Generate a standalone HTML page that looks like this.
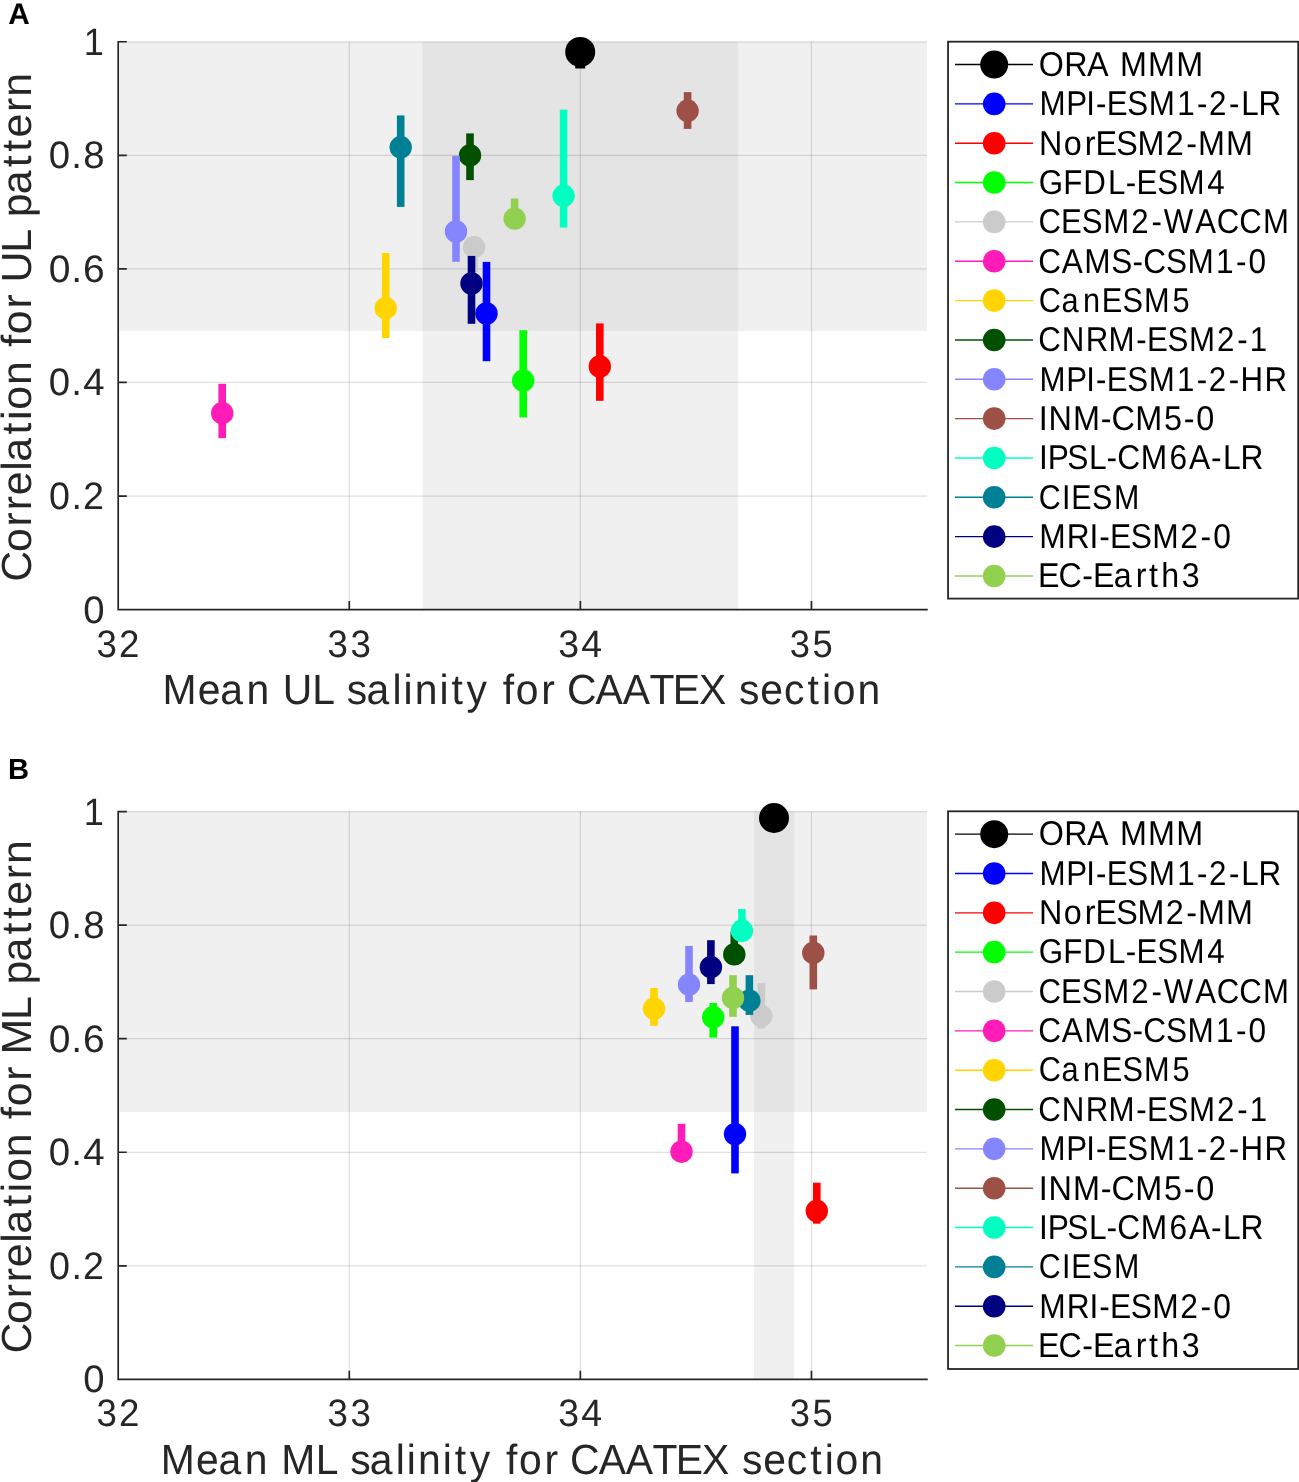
<!DOCTYPE html>
<html lang="en"><head><meta charset="utf-8"><title>Figure</title>
<style>html,body{margin:0;padding:0;background:#fff;}svg{display:block;will-change:transform;}text{font-family:"Liberation Sans",sans-serif;text-rendering:geometricPrecision;}</style></head><body>
<svg width="1299" height="1482" viewBox="0 0 1299 1482">
<rect x="0" y="0" width="1299" height="1482" fill="#ffffff"/>
<rect x="119.6" y="41.75" width="807.30" height="289.15" fill="#b3b3b3" fill-opacity="0.2"/>
<rect x="422.50" y="41.75" width="315.55" height="567.85" fill="#b3b3b3" fill-opacity="0.2"/>
<path d="M349.29 41.75V609.60M580.37 41.75V609.60M811.46 41.75V609.60" stroke="#262626" stroke-opacity="0.15" stroke-width="1.25" fill="none"/>
<path d="M118.20 496.03H926.90M118.20 382.46H926.90M118.20 268.89H926.90M118.20 155.32H926.90M118.20 41.75H926.90" stroke="#262626" stroke-opacity="0.15" stroke-width="1.25" fill="none"/>
<rect x="575.20" y="45.00" width="10.00" height="23.50" fill="#000000"/><circle cx="580.20" cy="51.90" r="15.0" fill="#000000"/>
<rect x="482.70" y="261.90" width="7.60" height="99.30" fill="#0000ff"/><circle cx="486.50" cy="313.50" r="11.2" fill="#0000ff"/>
<rect x="596.00" y="323.40" width="7.60" height="77.40" fill="#ff0000"/><circle cx="599.80" cy="366.50" r="11.2" fill="#ff0000"/>
<rect x="519.40" y="330.20" width="7.60" height="87.20" fill="#00ff00"/><circle cx="523.20" cy="380.70" r="11.2" fill="#00ff00"/>
<rect x="470.20" y="240.00" width="7.60" height="32.00" fill="#cbcbcb"/><circle cx="474.00" cy="247.20" r="11.2" fill="#cbcbcb"/>
<rect x="218.40" y="383.80" width="7.60" height="54.40" fill="#ff1cb8"/><circle cx="222.20" cy="413.20" r="11.2" fill="#ff1cb8"/>
<rect x="381.90" y="253.00" width="7.60" height="85.00" fill="#ffd400"/><circle cx="385.70" cy="308.20" r="11.2" fill="#ffd400"/>
<rect x="466.20" y="133.40" width="7.60" height="46.70" fill="#005000"/><circle cx="470.00" cy="155.40" r="11.2" fill="#005000"/>
<rect x="452.20" y="155.80" width="7.60" height="106.00" fill="#8585ff"/><circle cx="456.00" cy="231.50" r="11.2" fill="#8585ff"/>
<rect x="683.80" y="92.10" width="7.60" height="36.80" fill="#9c5046"/><circle cx="687.60" cy="110.80" r="11.2" fill="#9c5046"/>
<rect x="559.80" y="109.60" width="7.60" height="118.00" fill="#00ffc0"/><circle cx="563.60" cy="195.80" r="11.2" fill="#00ffc0"/>
<rect x="396.90" y="115.40" width="7.60" height="91.50" fill="#008094"/><circle cx="400.70" cy="147.30" r="11.2" fill="#008094"/>
<rect x="467.70" y="255.90" width="7.60" height="67.90" fill="#000080"/><circle cx="471.50" cy="283.50" r="11.2" fill="#000080"/>
<rect x="510.80" y="198.50" width="7.60" height="26.50" fill="#92d050"/><circle cx="514.60" cy="218.60" r="11.2" fill="#92d050"/>
<path d="M118.20 40.90V609.60H927.75M118.20 496.03h8.6M118.20 382.46h8.6M118.20 268.89h8.6M118.20 155.32h8.6M118.20 41.75h8.6M349.29 609.60v-8.6M580.37 609.60v-8.6M811.46 609.60v-8.6" stroke="#262626" stroke-width="1.7" fill="none" stroke-linejoin="miter"/>
<text transform="translate(0,622.60) scale(1.0000,1)" x="83.29" font-size="38.28" fill="#262626">0</text>
<text transform="translate(0,509.03) scale(0.9841,1)" x="49.78 72.61 84.30" font-size="38.28" fill="#262626">0.2</text>
<text transform="translate(0,395.46) scale(1.0030,1)" x="48.64 71.14 83.01" font-size="38.28" fill="#262626">0.4</text>
<text transform="translate(0,281.89) scale(1.0190,1)" x="47.72 69.94 81.48" font-size="38.28" fill="#262626">0.6</text>
<text transform="translate(0,168.32) scale(1.0031,1)" x="48.64 71.13 83.00" font-size="38.28" fill="#262626">0.8</text>
<text transform="translate(0,54.75) scale(0.9470,1)" x="88.38" font-size="38.28" fill="#262626">1</text>
<text transform="translate(0,656.50) scale(0.9579,1)" x="100.67 124.15" font-size="38.28" fill="#262626">32</text>
<text transform="translate(0,656.50) scale(0.9586,1)" x="341.65 365.63" font-size="38.28" fill="#262626">33</text>
<text transform="translate(0,656.50) scale(0.9799,1)" x="569.81 593.26" font-size="38.28" fill="#262626">34</text>
<text transform="translate(0,656.50) scale(0.9517,1)" x="829.82 853.84" font-size="38.28" fill="#262626">35</text>
<text transform="translate(0,704.20) scale(0.9711,1)" x="167.37 203.54 226.91 253.91 278.42 291.12 321.66 343.92 357.20 377.40 404.10 415.43 427.06 452.58 464.96 480.42 502.99 517.77 531.11 557.43 571.99 583.80 613.31 641.20 668.73 692.78 719.73 747.74 761.02 782.93 807.22 831.49 846.41 857.53 882.98" font-size="42.10" fill="#262626">Mean UL salinity for CAATEX section</text>
<text transform="translate(31.10,577.60) rotate(-90) scale(1.0179,1)" x="-4.04 25.06 50.26 66.19 80.82 105.02 113.76 140.47 154.72 164.95 189.15 213.03 226.77 239.18 264.38 278.63 289.96 319.11 340.90 354.01 376.53 403.24 418.44 432.33 457.48 472.41" font-size="42.10" fill="#262626">Correlation for UL pattern</text>
<text x="8.2" y="24.0" font-size="29.8" font-weight="bold" fill="#000">A</text>
<rect x="948.05" y="41.70" width="350.15" height="556.90" fill="#fff" stroke="#262626" stroke-width="1.8"/>
<path d="M955 64.55H1033" stroke="#000000" stroke-width="1.4" fill="none"/><circle cx="994.2" cy="64.55" r="14.0" fill="#000000"/>
<text transform="translate(0,75.85) scale(0.9373,1)" x="1108.24 1135.50 1159.80 1183.17 1194.87 1224.85 1254.82" font-size="34.46" fill="#000000">ORA MMM</text>
<path d="M955 103.89H1033" stroke="#0000ff" stroke-width="1.4" fill="none"/><circle cx="994.2" cy="103.89" r="11.3" fill="#0000ff"/>
<text transform="translate(0,115.19) scale(0.9104,1)" x="1141.72 1171.15 1193.23 1203.84 1215.66 1238.34 1261.86 1293.02 1314.71 1328.00 1350.07 1363.29 1382.47" font-size="34.46" fill="#000000">MPI-ESM1-2-LR</text>
<path d="M955 143.23H1033" stroke="#ff0000" stroke-width="1.4" fill="none"/><circle cx="994.2" cy="143.23" r="11.3" fill="#ff0000"/>
<text transform="translate(0,154.53) scale(0.9371,1)" x="1108.70 1135.07 1157.45 1168.92 1191.08 1213.97 1244.13 1265.77 1278.36 1308.23" font-size="34.46" fill="#000000">NorESM2-MM</text>
<path d="M955 182.57H1033" stroke="#00ff00" stroke-width="1.4" fill="none"/><circle cx="994.2" cy="182.57" r="11.3" fill="#00ff00"/>
<text transform="translate(0,193.87) scale(0.9083,1)" x="1143.65 1170.53 1192.75 1219.91 1239.30 1251.19 1273.96 1297.59 1329.06" font-size="34.46" fill="#000000">GFDL-ESM4</text>
<path d="M955 221.91H1033" stroke="#cbcbcb" stroke-width="1.4" fill="none"/><circle cx="994.2" cy="221.91" r="11.3" fill="#cbcbcb"/>
<text transform="translate(0,233.21) scale(0.9041,1)" x="1148.58 1173.51 1196.45 1220.28 1251.36 1273.64 1287.32 1322.09 1345.78 1370.83 1397.09" font-size="34.46" fill="#000000">CESM2-WACCM</text>
<path d="M955 261.25H1033" stroke="#ff1cb8" stroke-width="1.4" fill="none"/><circle cx="994.2" cy="261.25" r="11.3" fill="#ff1cb8"/>
<text transform="translate(0,272.55) scale(0.9160,1)" x="1133.52 1159.08 1183.60 1213.11 1236.28 1248.16 1273.03 1296.48 1327.57 1349.22 1362.94" font-size="34.46" fill="#000000">CAMS-CSM1-0</text>
<path d="M955 300.59H1033" stroke="#ffd400" stroke-width="1.4" fill="none"/><circle cx="994.2" cy="300.59" r="11.3" fill="#ffd400"/>
<text transform="translate(0,311.89) scale(0.8925,1)" x="1163.76 1189.32 1213.42 1234.42 1257.68 1281.90 1313.77" font-size="34.46" fill="#000000">CanESM5</text>
<path d="M955 339.93H1033" stroke="#005000" stroke-width="1.4" fill="none"/><circle cx="994.2" cy="339.93" r="11.3" fill="#005000"/>
<text transform="translate(0,351.23) scale(0.9075,1)" x="1144.16 1170.04 1196.39 1221.60 1251.97 1263.86 1286.64 1310.27 1341.15 1363.30 1377.04" font-size="34.46" fill="#000000">CNRM-ESM2-1</text>
<path d="M955 379.27H1033" stroke="#8585ff" stroke-width="1.4" fill="none"/><circle cx="994.2" cy="379.27" r="11.3" fill="#8585ff"/>
<text transform="translate(0,390.57) scale(0.9066,1)" x="1146.56 1176.05 1198.17 1208.81 1220.66 1243.39 1266.97 1298.19 1319.92 1333.24 1355.35 1368.40 1394.77" font-size="34.46" fill="#000000">MPI-ESM1-2-HR</text>
<path d="M955 418.61H1033" stroke="#9c5046" stroke-width="1.4" fill="none"/><circle cx="994.2" cy="418.61" r="11.3" fill="#9c5046"/>
<text transform="translate(0,429.91) scale(0.9409,1)" x="1104.10 1114.35 1140.28 1169.98 1181.39 1206.58 1237.05 1258.23 1271.52" font-size="34.46" fill="#000000">INM-CM5-0</text>
<path d="M955 457.95H1033" stroke="#00ffc0" stroke-width="1.4" fill="none"/><circle cx="994.2" cy="457.95" r="11.3" fill="#00ffc0"/>
<text transform="translate(0,469.25) scale(0.9210,1)" x="1128.10 1137.65 1158.93 1182.29 1201.44 1213.13 1238.74 1269.74 1290.95 1315.00 1328.01 1346.92" font-size="34.46" fill="#000000">IPSL-CM6A-LR</text>
<path d="M955 497.29H1033" stroke="#008094" stroke-width="1.4" fill="none"/><circle cx="994.2" cy="497.29" r="11.3" fill="#008094"/>
<text transform="translate(0,508.59) scale(0.8823,1)" x="1177.42 1203.69 1214.10 1237.77 1262.48" font-size="34.46" fill="#000000">CIESM</text>
<path d="M955 536.63H1033" stroke="#000080" stroke-width="1.4" fill="none"/><circle cx="994.2" cy="536.63" r="11.3" fill="#000080"/>
<text transform="translate(0,547.93) scale(0.9212,1)" x="1128.21 1158.14 1182.66 1193.20 1204.88 1227.42 1250.76 1281.35 1303.30 1316.94" font-size="34.46" fill="#000000">MRI-ESM2-0</text>
<path d="M955 575.97H1033" stroke="#92d050" stroke-width="1.4" fill="none"/><circle cx="994.2" cy="575.97" r="11.3" fill="#92d050"/>
<text transform="translate(0,587.27) scale(0.9341,1)" x="1111.25 1133.29 1158.55 1169.99 1192.29 1215.99 1230.02 1243.17 1265.24" font-size="34.46" fill="#000000">EC-Earth3</text>
<rect x="119.6" y="811.55" width="807.30" height="300.55" fill="#b3b3b3" fill-opacity="0.2"/>
<rect x="754.00" y="811.55" width="40.05" height="567.85" fill="#b3b3b3" fill-opacity="0.2"/>
<path d="M349.29 811.55V1379.40M580.37 811.55V1379.40M811.46 811.55V1379.40" stroke="#262626" stroke-opacity="0.15" stroke-width="1.25" fill="none"/>
<path d="M118.20 1265.83H926.90M118.20 1152.26H926.90M118.20 1038.69H926.90M118.20 925.12H926.90M118.20 811.55H926.90" stroke="#262626" stroke-opacity="0.15" stroke-width="1.25" fill="none"/>
<rect x="769.00" y="815.00" width="10.00" height="6.00" fill="#000000"/><circle cx="774.00" cy="818.00" r="15.0" fill="#000000"/>
<rect x="731.20" y="1026.30" width="7.60" height="147.10" fill="#0000ff"/><circle cx="735.00" cy="1134.10" r="11.2" fill="#0000ff"/>
<rect x="813.00" y="1182.70" width="7.60" height="41.00" fill="#ff0000"/><circle cx="816.80" cy="1211.00" r="11.2" fill="#ff0000"/>
<rect x="709.40" y="1003.00" width="7.60" height="34.70" fill="#00ff00"/><circle cx="713.20" cy="1017.30" r="11.2" fill="#00ff00"/>
<rect x="757.50" y="983.10" width="7.60" height="45.40" fill="#cbcbcb"/><circle cx="761.30" cy="1015.80" r="11.2" fill="#cbcbcb"/>
<rect x="677.70" y="1123.80" width="7.60" height="36.20" fill="#ff1cb8"/><circle cx="681.50" cy="1151.70" r="11.2" fill="#ff1cb8"/>
<rect x="650.20" y="988.00" width="7.60" height="37.80" fill="#ffd400"/><circle cx="654.00" cy="1008.60" r="11.2" fill="#ffd400"/>
<rect x="730.50" y="931.60" width="7.60" height="30.40" fill="#005000"/><circle cx="734.30" cy="954.40" r="11.2" fill="#005000"/>
<rect x="685.20" y="945.90" width="7.60" height="56.10" fill="#8585ff"/><circle cx="689.00" cy="984.60" r="11.2" fill="#8585ff"/>
<rect x="809.50" y="935.50" width="7.60" height="53.90" fill="#9c5046"/><circle cx="813.30" cy="952.90" r="11.2" fill="#9c5046"/>
<rect x="738.10" y="909.00" width="7.60" height="29.00" fill="#00ffc0"/><circle cx="741.90" cy="930.80" r="11.2" fill="#00ffc0"/>
<rect x="745.60" y="975.20" width="7.60" height="39.70" fill="#008094"/><circle cx="749.40" cy="1000.70" r="11.2" fill="#008094"/>
<rect x="707.10" y="940.20" width="7.60" height="43.90" fill="#000080"/><circle cx="710.90" cy="967.20" r="11.2" fill="#000080"/>
<rect x="729.20" y="975.20" width="7.60" height="41.60" fill="#92d050"/><circle cx="733.00" cy="997.90" r="11.2" fill="#92d050"/>
<path d="M118.20 810.70V1379.40H927.75M118.20 1265.83h8.6M118.20 1152.26h8.6M118.20 1038.69h8.6M118.20 925.12h8.6M118.20 811.55h8.6M349.29 1379.40v-8.6M580.37 1379.40v-8.6M811.46 1379.40v-8.6" stroke="#262626" stroke-width="1.7" fill="none" stroke-linejoin="miter"/>
<text transform="translate(0,1392.40) scale(1.0000,1)" x="83.29" font-size="38.28" fill="#262626">0</text>
<text transform="translate(0,1278.83) scale(0.9841,1)" x="49.78 72.61 84.30" font-size="38.28" fill="#262626">0.2</text>
<text transform="translate(0,1165.26) scale(1.0030,1)" x="48.64 71.14 83.01" font-size="38.28" fill="#262626">0.4</text>
<text transform="translate(0,1051.69) scale(1.0190,1)" x="47.72 69.94 81.48" font-size="38.28" fill="#262626">0.6</text>
<text transform="translate(0,938.12) scale(1.0031,1)" x="48.64 71.13 83.00" font-size="38.28" fill="#262626">0.8</text>
<text transform="translate(0,824.55) scale(0.9470,1)" x="88.38" font-size="38.28" fill="#262626">1</text>
<text transform="translate(0,1426.30) scale(0.9579,1)" x="100.67 124.15" font-size="38.28" fill="#262626">32</text>
<text transform="translate(0,1426.30) scale(0.9586,1)" x="341.65 365.63" font-size="38.28" fill="#262626">33</text>
<text transform="translate(0,1426.30) scale(0.9799,1)" x="569.81 593.26" font-size="38.28" fill="#262626">34</text>
<text transform="translate(0,1426.30) scale(0.9517,1)" x="829.82 853.84" font-size="38.28" fill="#262626">35</text>
<text transform="translate(0,1473.80) scale(0.9706,1)" x="165.70 201.86 225.21 252.21 276.71 289.65 325.26 347.51 360.79 380.98 407.67 418.99 430.61 456.13 468.50 483.95 506.52 521.29 534.61 560.92 575.48 587.28 616.78 644.65 672.17 696.21 723.15 751.16 764.43 786.33 810.60 834.87 849.79 860.89 886.33" font-size="42.10" fill="#262626">Mean ML salinity for CAATEX section</text>
<text transform="translate(31.10,1349.40) rotate(-90) scale(1.0164,1)" x="-4.04 25.06 50.26 66.19 80.81 105.01 113.75 140.47 154.72 164.94 189.14 213.02 226.76 239.17 264.37 278.62 290.07 324.17 345.96 359.07 381.58 408.30 423.49 437.39 462.54 477.46" font-size="42.10" fill="#262626">Correlation for ML pattern</text>
<text x="8.1" y="779.3" font-size="29.2" font-weight="bold" fill="#000">B</text>
<rect x="948.05" y="811.30" width="350.15" height="557.70" fill="#fff" stroke="#262626" stroke-width="1.8"/>
<path d="M955 834.15H1033" stroke="#000000" stroke-width="1.4" fill="none"/><circle cx="994.2" cy="834.15" r="14.0" fill="#000000"/>
<text transform="translate(0,845.45) scale(0.9373,1)" x="1108.24 1135.50 1159.80 1183.17 1194.87 1224.85 1254.82" font-size="34.46" fill="#000000">ORA MMM</text>
<path d="M955 873.49H1033" stroke="#0000ff" stroke-width="1.4" fill="none"/><circle cx="994.2" cy="873.49" r="11.3" fill="#0000ff"/>
<text transform="translate(0,884.79) scale(0.9104,1)" x="1141.72 1171.15 1193.23 1203.84 1215.66 1238.34 1261.86 1293.02 1314.71 1328.00 1350.07 1363.29 1382.47" font-size="34.46" fill="#000000">MPI-ESM1-2-LR</text>
<path d="M955 912.83H1033" stroke="#ff0000" stroke-width="1.4" fill="none"/><circle cx="994.2" cy="912.83" r="11.3" fill="#ff0000"/>
<text transform="translate(0,924.13) scale(0.9371,1)" x="1108.70 1135.07 1157.45 1168.92 1191.08 1213.97 1244.13 1265.77 1278.36 1308.23" font-size="34.46" fill="#000000">NorESM2-MM</text>
<path d="M955 952.17H1033" stroke="#00ff00" stroke-width="1.4" fill="none"/><circle cx="994.2" cy="952.17" r="11.3" fill="#00ff00"/>
<text transform="translate(0,963.47) scale(0.9083,1)" x="1143.65 1170.53 1192.75 1219.91 1239.30 1251.19 1273.96 1297.59 1329.06" font-size="34.46" fill="#000000">GFDL-ESM4</text>
<path d="M955 991.51H1033" stroke="#cbcbcb" stroke-width="1.4" fill="none"/><circle cx="994.2" cy="991.51" r="11.3" fill="#cbcbcb"/>
<text transform="translate(0,1002.81) scale(0.9041,1)" x="1148.58 1173.51 1196.45 1220.28 1251.36 1273.64 1287.32 1322.09 1345.78 1370.83 1397.09" font-size="34.46" fill="#000000">CESM2-WACCM</text>
<path d="M955 1030.85H1033" stroke="#ff1cb8" stroke-width="1.4" fill="none"/><circle cx="994.2" cy="1030.85" r="11.3" fill="#ff1cb8"/>
<text transform="translate(0,1042.15) scale(0.9160,1)" x="1133.52 1159.08 1183.60 1213.11 1236.28 1248.16 1273.03 1296.48 1327.57 1349.22 1362.94" font-size="34.46" fill="#000000">CAMS-CSM1-0</text>
<path d="M955 1070.19H1033" stroke="#ffd400" stroke-width="1.4" fill="none"/><circle cx="994.2" cy="1070.19" r="11.3" fill="#ffd400"/>
<text transform="translate(0,1081.49) scale(0.8925,1)" x="1163.76 1189.32 1213.42 1234.42 1257.68 1281.90 1313.77" font-size="34.46" fill="#000000">CanESM5</text>
<path d="M955 1109.53H1033" stroke="#005000" stroke-width="1.4" fill="none"/><circle cx="994.2" cy="1109.53" r="11.3" fill="#005000"/>
<text transform="translate(0,1120.83) scale(0.9075,1)" x="1144.16 1170.04 1196.39 1221.60 1251.97 1263.86 1286.64 1310.27 1341.15 1363.30 1377.04" font-size="34.46" fill="#000000">CNRM-ESM2-1</text>
<path d="M955 1148.87H1033" stroke="#8585ff" stroke-width="1.4" fill="none"/><circle cx="994.2" cy="1148.87" r="11.3" fill="#8585ff"/>
<text transform="translate(0,1160.17) scale(0.9066,1)" x="1146.56 1176.05 1198.17 1208.81 1220.66 1243.39 1266.97 1298.19 1319.92 1333.24 1355.35 1368.40 1394.77" font-size="34.46" fill="#000000">MPI-ESM1-2-HR</text>
<path d="M955 1188.21H1033" stroke="#9c5046" stroke-width="1.4" fill="none"/><circle cx="994.2" cy="1188.21" r="11.3" fill="#9c5046"/>
<text transform="translate(0,1199.51) scale(0.9409,1)" x="1104.10 1114.35 1140.28 1169.98 1181.39 1206.58 1237.05 1258.23 1271.52" font-size="34.46" fill="#000000">INM-CM5-0</text>
<path d="M955 1227.55H1033" stroke="#00ffc0" stroke-width="1.4" fill="none"/><circle cx="994.2" cy="1227.55" r="11.3" fill="#00ffc0"/>
<text transform="translate(0,1238.85) scale(0.9210,1)" x="1128.10 1137.65 1158.93 1182.29 1201.44 1213.13 1238.74 1269.74 1290.95 1315.00 1328.01 1346.92" font-size="34.46" fill="#000000">IPSL-CM6A-LR</text>
<path d="M955 1266.89H1033" stroke="#008094" stroke-width="1.4" fill="none"/><circle cx="994.2" cy="1266.89" r="11.3" fill="#008094"/>
<text transform="translate(0,1278.19) scale(0.8823,1)" x="1177.42 1203.69 1214.10 1237.77 1262.48" font-size="34.46" fill="#000000">CIESM</text>
<path d="M955 1306.23H1033" stroke="#000080" stroke-width="1.4" fill="none"/><circle cx="994.2" cy="1306.23" r="11.3" fill="#000080"/>
<text transform="translate(0,1317.53) scale(0.9212,1)" x="1128.21 1158.14 1182.66 1193.20 1204.88 1227.42 1250.76 1281.35 1303.30 1316.94" font-size="34.46" fill="#000000">MRI-ESM2-0</text>
<path d="M955 1345.57H1033" stroke="#92d050" stroke-width="1.4" fill="none"/><circle cx="994.2" cy="1345.57" r="11.3" fill="#92d050"/>
<text transform="translate(0,1356.87) scale(0.9341,1)" x="1111.25 1133.29 1158.55 1169.99 1192.29 1215.99 1230.02 1243.17 1265.24" font-size="34.46" fill="#000000">EC-Earth3</text>
</svg></body></html>
